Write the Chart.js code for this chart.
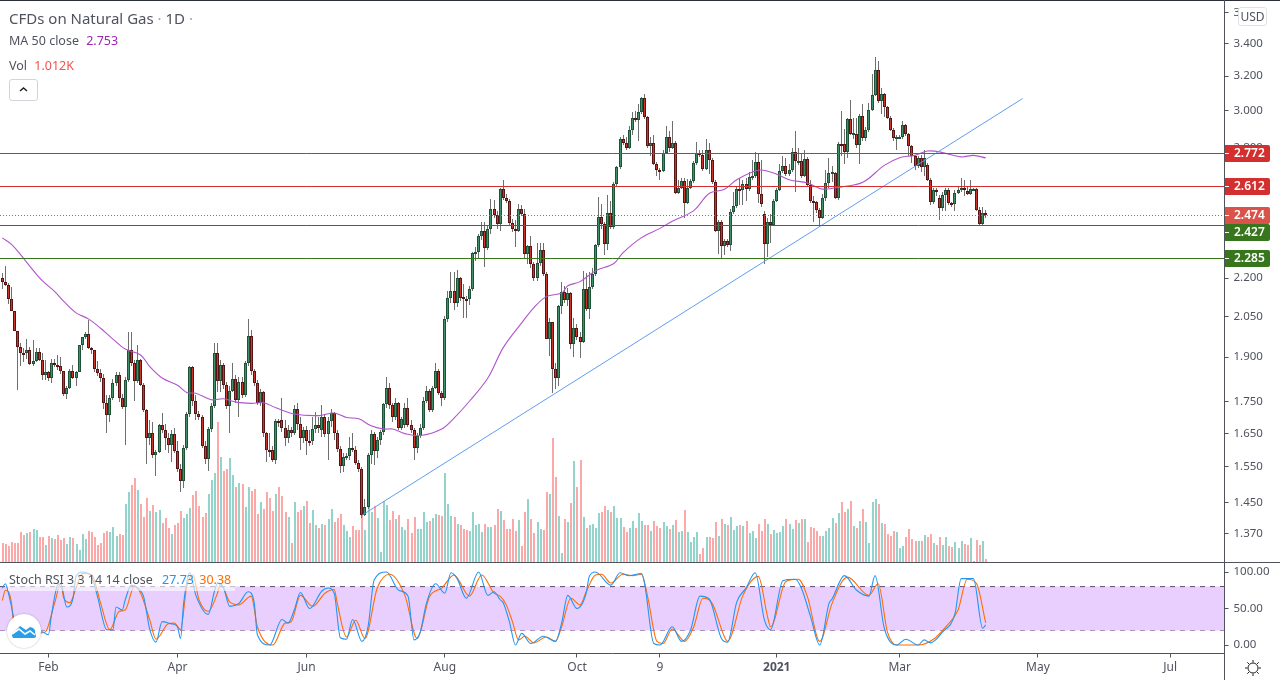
<!DOCTYPE html>
<html>
<head>
<meta charset="utf-8">
<title>CFDs on Natural Gas</title>
<script src="https://cdn.jsdelivr.net/npm/chart.js@4"></script>
<style>
  html, body { margin: 0; padding: 0; background: #fff; }
  #wrap { position: relative; width: 1280px; height: 680px; overflow: hidden; font-family: 'Noto Sans', sans-serif; color: #50535e; }
  canvas { position: absolute; left: 0; display: block; }
  #priceChart { top: 0; }
  #rsiChart { top: 562px; }
  .abs { position: absolute; white-space: nowrap; }
  .rule { position: absolute; background: #50535e; }
</style>
</head>
<body>
<div id="wrap">
  <canvas id="priceChart" width="1280" height="562"></canvas>
  <canvas id="rsiChart" width="1280" height="118"></canvas>

  <div class="rule" style="left:0;top:0;width:1280px;height:1px;background:#2a2e39"></div>
  <div class="rule" style="left:0;top:562px;width:1280px;height:1px"></div>
  <div class="rule" style="left:1224px;top:0;width:1px;height:680px"></div>

  <div class="abs" style="left:9px;top:8px;font-size:15px">CFDs on Natural Gas <span style="color:#a0a3ab">·</span> 1D <span style="color:#a0a3ab">·</span></div>
  <div class="abs" style="left:9px;top:32px;font-size:12.5px">MA 50 close <span style="color:#9c27b0;margin-left:4px">2.753</span></div>
  <div class="abs" style="left:9px;top:57px;font-size:12.5px">Vol <span style="color:#ef5350;margin-left:4px">1.012K</span></div>
  <div class="abs" style="left:9px;top:79px;width:27px;height:20px;border:1px solid #d1d4dc;border-radius:3px;background:#fff">
    <svg width="27" height="20"><polyline points="10,11 13.5,8 17,11" fill="none" stroke="#222" stroke-width="1.5"/></svg>
  </div>

  <div class="abs" style="left:1238px;top:7px;width:27px;height:17px;border:1px solid #dfe1e8;border-radius:3px;background:#fff;font-size:12px;line-height:17px;text-align:center">USD</div>

  <div class="abs" style="left:8px;top:570px;width:227px;height:21px;background:rgba(255,255,255,.6)"></div>
  <div class="abs" style="left:9px;top:571px;font-size:12.5px">Stoch RSI 3 3 14 14 close <span style="color:#2196f3;margin-left:6px">27.73</span> <span style="color:#ff6d00;margin-left:2px">30.38</span></div>

  <div class="abs" style="left:7px;top:614px;width:34px;height:34px;border-radius:50%;background:#fff;box-shadow:0 0 2px rgba(0,0,0,.3)">
    <svg width="34" height="34" viewBox="0 0 34 34">
      <path d="M6 24 Q3 19 8 17 L13 12 L19 16 L23 13 Q29 14 28 19 Q31 24 26 24 Z" fill="#2a9fe8"/>
      <polyline points="5,20 12,15 18,20 23,17 28,21" fill="none" stroke="#fff" stroke-width="1.6"/>
    </svg>
  </div>

  <svg class="abs" style="left:1244px;top:659px" width="18" height="18" viewBox="0 0 18 18">
    <circle cx="9" cy="9" r="5" fill="none" stroke="#222" stroke-width="1"/>
    <path d="M9 1V3.5M9 14.5V17M1 9H3.5M14.5 9H17M3.3 3.3L5 5M13 13L14.7 14.7M3.3 14.7L5 13M13 5L14.7 3.3" stroke="#222" stroke-width="1"/>
  </svg>
</div>

<script>
// Candles, one entry per trading day
const opens = [
  2.199,2.185,2.174,2.117,2.071,1.993,1.935,1.916,1.914,1.924,
  1.876,1.887,1.918,1.891,1.840,1.849,1.829,1.879,1.872,1.868,
  1.852,1.776,1.796,1.852,1.829,1.849,1.945,1.971,1.982,1.932,
  1.924,1.859,1.845,1.829,1.745,1.707,1.763,1.811,1.840,1.760,
  1.732,1.822,1.926,1.879,1.819,1.891,1.804,1.722,1.637,1.652,
  1.584,1.593,1.675,1.660,1.635,1.615,1.649,1.596,1.543,1.510,
  1.607,1.711,1.865,1.752,1.711,1.702,1.612,1.574,1.663,1.737,
  1.914,1.819,1.872,1.804,1.735,1.786,1.825,1.756,1.816,1.770,
  1.879,1.978,1.852,1.811,1.746,1.780,1.651,1.601,1.601,1.571,
  1.688,1.691,1.667,1.635,1.660,1.652,1.727,1.680,1.635,1.660,
  1.627,1.625,1.663,1.677,
  1.661,1.699,1.649,1.687,1.713,1.651,1.604,1.552,1.580,1.583,
  1.607,1.601,1.561,1.545,1.418,1.440,1.586,1.649,1.598,1.631,
  1.653,1.741,1.793,1.738,1.699,1.744,1.667,1.677,1.730,1.677,
  1.661,1.607,1.641,1.667,1.753,1.783,1.724,1.796,1.851,1.779,
  1.760,2.040,2.120,2.147,2.100,2.200,2.125,2.117,2.115,2.155,
  2.304,2.308,2.381,2.403,2.327,2.412,2.502,2.475,2.431,2.596,
  2.554,2.540,2.435,2.408,2.403,2.502,2.480,2.300,2.335,2.258,
  2.200,2.262,2.318,2.217,1.967,2.027,1.860,1.829,2.090,2.143,
  2.114,2.139,1.948,2.006,1.972,1.954,2.155,2.078,2.163,2.217,
  2.338,2.463,2.431,2.345,2.481,2.421,2.620,2.703,2.848,2.825,
  2.801,2.896,2.961,2.950,2.993,3.073,2.964,2.811,2.827,2.720,
  2.691,2.686,2.776,2.858,2.801,2.829,2.578,2.601,2.635,2.531,
  2.601,2.635,2.725,2.776,2.766,2.695,2.790,2.740,2.630,2.403,
  2.443,2.337,2.355,2.341,2.488,2.515,2.595,2.590,2.621,2.595,
  2.656,2.660,2.730,2.574,2.479,2.344,2.443,2.430,2.540,2.591,
  2.686,2.710,2.671,2.691,2.781,2.733,2.735,2.660,2.745,2.616,
  2.540,2.532,2.496,2.461,2.554,2.624,2.676,2.676,2.554,2.822,
  2.822,2.781,2.955,2.877,2.877,2.817,2.973,2.853,2.896,3.008,
  3.093,3.234,3.055,3.097,
  3.022,2.961,2.896,2.853,2.858,2.860,2.923,2.873,2.811,2.761,
  2.710,2.751,2.705,2.714,2.641,2.532,2.591,2.554,2.505,2.569,
  2.591,2.528,2.523,2.578,2.591,2.601,2.586,2.574,2.595,2.595,
  2.496,2.434,2.484
];
const closes = [
  2.185,2.174,2.117,2.071,1.993,1.935,1.914,1.914,1.924,1.876,
  1.887,1.918,1.891,1.840,1.849,1.829,1.879,1.872,1.868,1.852,
  1.776,1.796,1.852,1.829,1.849,1.945,1.971,1.982,1.932,1.924,
  1.859,1.845,1.829,1.745,1.707,1.763,1.811,1.840,1.760,1.732,
  1.822,1.926,1.879,1.819,1.891,1.804,1.722,1.637,1.652,1.584,
  1.593,1.675,1.660,1.635,1.615,1.649,1.596,1.543,1.510,1.607,
  1.711,1.865,1.752,1.711,1.702,1.612,1.574,1.663,1.737,1.914,
  1.819,1.872,1.804,1.735,1.786,1.825,1.756,1.816,1.770,1.879,
  1.978,1.852,1.811,1.746,1.780,1.651,1.601,1.600,1.571,1.688,
  1.685,1.667,1.635,1.660,1.652,1.727,1.680,1.635,1.660,1.627,
  1.625,1.663,1.677,1.667,
  1.699,1.649,1.687,1.713,1.651,1.604,1.552,1.580,1.583,1.607,
  1.601,1.561,1.545,1.418,1.440,1.586,1.649,1.598,1.631,1.653,
  1.741,1.793,1.738,1.699,1.744,1.667,1.693,1.730,1.677,1.661,
  1.607,1.641,1.667,1.753,1.783,1.724,1.796,1.851,1.779,1.760,
  2.040,2.120,2.147,2.100,2.200,2.120,2.117,2.115,2.155,2.304,
  2.308,2.381,2.403,2.327,2.412,2.502,2.475,2.431,2.596,2.554,
  2.540,2.435,2.408,2.403,2.502,2.480,2.300,2.335,2.258,2.200,
  2.262,2.318,2.217,1.967,2.027,1.860,1.829,2.090,2.143,2.114,
  2.139,1.948,2.006,1.972,1.954,2.155,2.078,2.163,2.217,2.338,
  2.463,2.431,2.345,2.481,2.421,2.620,2.703,2.848,2.825,2.801,
  2.896,2.961,2.950,2.993,3.073,2.964,2.811,2.827,2.720,2.691,
  2.686,2.776,2.858,2.801,2.829,2.578,2.601,2.635,2.531,2.601,
  2.635,2.725,2.776,2.766,2.695,2.790,2.740,2.630,2.403,2.443,
  2.337,2.355,2.341,2.488,2.515,2.595,2.590,2.621,2.595,2.656,
  2.660,2.730,2.574,2.523,2.344,2.443,2.430,2.540,2.591,2.686,
  2.710,2.671,2.691,2.781,2.733,2.736,2.660,2.745,2.616,2.540,
  2.532,2.496,2.461,2.554,2.624,2.676,2.678,2.554,2.822,2.819,
  2.781,2.955,2.877,2.879,2.817,2.973,2.853,2.896,3.008,3.093,
  3.234,3.055,3.097,3.022,
  2.961,2.896,2.853,2.858,2.860,2.923,2.873,2.811,2.761,2.710,
  2.751,2.705,2.751,2.641,2.532,2.591,2.590,2.505,2.569,2.591,
  2.528,2.523,2.578,2.591,2.601,2.598,2.574,2.595,2.596,2.496,
  2.434,2.484,2.474
];
const highs = [
  2.222,2.249,2.181,2.164,2.071,1.993,1.951,1.934,1.964,1.937,
  1.962,1.934,1.932,1.916,1.891,1.851,1.893,1.893,1.907,1.902,
  1.853,1.800,1.858,1.872,1.853,1.945,1.973,1.992,2.037,1.935,
  1.926,1.888,1.860,1.842,1.770,1.770,1.825,1.850,1.850,1.775,
  1.830,1.990,1.990,1.890,1.945,1.895,1.810,1.725,1.690,1.685,
  1.600,1.680,1.712,1.680,1.650,1.660,1.665,1.625,1.560,1.615,
  1.715,1.870,1.868,1.770,1.720,1.708,1.625,1.670,1.745,1.951,
  1.951,1.890,1.880,1.815,1.800,1.880,1.840,1.830,1.830,1.885,
  2.039,2.000,1.860,1.820,1.790,1.785,1.655,1.650,1.610,1.695,
  1.695,1.760,1.690,1.675,1.670,1.739,1.745,1.700,1.670,1.672,
  1.660,1.700,1.715,1.700,
  1.740,1.710,1.700,1.725,1.715,1.660,1.610,1.590,1.590,1.640,
  1.651,1.610,1.570,1.550,1.460,1.590,1.660,1.655,1.640,1.660,
  1.745,1.833,1.810,1.745,1.760,1.750,1.700,1.745,1.760,1.690,
  1.665,1.650,1.680,1.765,1.800,1.790,1.800,1.880,1.860,1.785,
  2.050,2.147,2.225,2.225,2.235,2.205,2.175,2.130,2.170,2.310,
  2.330,2.390,2.440,2.440,2.430,2.550,2.545,2.490,2.600,2.641,
  2.570,2.550,2.455,2.450,2.525,2.520,2.500,2.340,2.380,2.265,
  2.350,2.350,2.350,2.225,2.045,2.030,1.880,2.095,2.185,2.170,
  2.160,2.145,2.043,2.020,1.990,2.230,2.220,2.225,2.240,2.345,
  2.557,2.525,2.440,2.565,2.540,2.630,2.710,2.860,2.870,2.860,
  2.920,2.995,3.000,3.040,3.080,3.095,2.970,2.860,2.870,2.730,
  2.700,2.790,2.920,2.890,2.945,2.835,2.640,2.650,2.650,2.645,
  2.645,2.735,2.830,2.790,2.790,2.850,2.825,2.750,2.640,2.450,
  2.450,2.365,2.365,2.500,2.580,2.610,2.650,2.640,2.650,2.680,
  2.740,2.780,2.770,2.740,2.490,2.460,2.480,2.550,2.600,2.720,
  2.760,2.750,2.720,2.800,2.893,2.800,2.770,2.790,2.755,2.640,
  2.560,2.540,2.505,2.570,2.690,2.750,2.710,2.680,2.830,3.000,
  2.900,2.960,3.060,2.960,2.960,2.985,3.040,2.910,3.046,3.214,
  3.315,3.294,3.133,3.100,
  3.030,2.970,2.905,2.870,2.870,2.945,2.930,2.880,2.815,2.765,
  2.760,2.765,2.790,2.725,2.650,2.600,2.600,2.565,2.580,2.600,
  2.600,2.535,2.590,2.610,2.650,2.640,2.610,2.640,2.600,2.600,
  2.510,2.510,2.495
];
const lows = [
  2.158,2.167,2.097,2.069,1.993,1.788,1.871,1.882,1.893,1.873,
  1.871,1.882,1.885,1.820,1.822,1.818,1.812,1.865,1.856,1.841,
  1.768,1.759,1.791,1.824,1.800,1.848,1.925,1.964,1.928,1.913,
  1.850,1.835,1.815,1.725,1.650,1.685,1.755,1.800,1.750,1.725,
  1.614,1.815,1.870,1.752,1.810,1.800,1.715,1.560,1.615,1.575,
  1.525,1.590,1.650,1.600,1.590,1.565,1.590,1.535,1.480,1.490,
  1.600,1.700,1.735,1.690,1.690,1.605,1.560,1.538,1.655,1.730,
  1.780,1.782,1.790,1.725,1.650,1.780,1.745,1.700,1.760,1.765,
  1.870,1.840,1.800,1.740,1.735,1.640,1.565,1.580,1.565,1.560,
  1.670,1.655,1.610,1.620,1.640,1.645,1.660,1.600,1.620,1.585,
  1.610,1.615,1.650,1.650,
  1.640,1.640,1.571,1.670,1.630,1.595,1.532,1.535,1.570,1.570,
  1.595,1.555,1.535,1.410,1.415,1.435,1.560,1.556,1.575,1.615,
  1.645,1.730,1.725,1.685,1.690,1.660,1.660,1.665,1.670,1.650,
  1.571,1.590,1.635,1.660,1.745,1.715,1.715,1.790,1.770,1.735,
  1.755,2.030,2.100,2.075,2.085,2.110,2.044,2.044,2.095,2.150,
  2.270,2.280,2.360,2.245,2.320,2.390,2.460,2.410,2.400,2.545,
  2.530,2.430,2.395,2.330,2.395,2.470,2.280,2.260,2.240,2.190,
  2.190,2.250,2.210,1.965,1.904,1.777,1.790,1.800,2.060,2.100,
  2.090,1.930,1.900,1.960,1.897,1.950,2.070,2.040,2.155,2.210,
  2.330,2.410,2.295,2.320,2.410,2.410,2.610,2.695,2.815,2.790,
  2.795,2.870,2.940,2.840,2.985,2.955,2.800,2.760,2.715,2.660,
  2.640,2.680,2.770,2.780,2.795,2.570,2.570,2.595,2.460,2.525,
  2.595,2.625,2.715,2.755,2.685,2.690,2.670,2.620,2.395,2.302,
  2.285,2.295,2.330,2.315,2.480,2.505,2.520,2.520,2.540,2.585,
  2.640,2.650,2.530,2.510,2.260,2.290,2.350,2.425,2.535,2.585,
  2.675,2.660,2.660,2.680,2.580,2.715,2.650,2.655,2.610,2.530,
  2.440,2.485,2.420,2.455,2.540,2.600,2.630,2.550,2.545,2.760,
  2.720,2.750,2.870,2.850,2.800,2.720,2.840,2.840,2.885,3.000,
  3.085,3.045,2.985,2.968,
  2.955,2.890,2.840,2.790,2.850,2.850,2.865,2.760,2.725,2.690,
  2.700,2.680,2.660,2.635,2.520,2.525,2.560,2.451,2.490,2.490,
  2.520,2.510,2.490,2.570,2.580,2.560,2.565,2.565,2.590,2.490,
  2.425,2.430,2.460
];
// Volume in thousands
const volumes = [
  6.3,6,5.3,6.7,6.3,6.3,10,9,9.7,10,
  11,10.7,8.3,8.3,5.7,8.7,8,7.7,9,7.3,
  8,6,8.3,8,6,4,9.3,7.7,10.3,10,
  8.3,5.7,6.3,9.7,10.3,10,11.7,8.7,9.3,9,
  19.3,23.3,25.7,28,24,19.3,15,21.3,17,19,
  16.7,17.3,13,14.7,11.3,9.3,12.3,13,17,14.7,
  16,18,22.3,23.7,18.7,15,16.3,22.7,27.3,29.7,
  46.7,35,30.3,31,34.7,29,25,26.3,26,18.3,
  25,23.7,24.3,16,20,17.7,23.3,21.3,17,22.7,
  25,22,16.7,15,6.3,20,16.7,17.3,18.7,20.3,
  13,17.3,12.3,11.3,12.7,12.3,14.3,17.7,13.3,14.7,
  16,12.3,10.3,8.3,12,10.7,10.7,16,10.7,18.7,
  16.7,18.7,14.7,3.3,20.3,19,14,17,14.3,15.7,
  11.7,10.7,14.3,9.7,15,11,11,16.7,13.3,13.7,
  14.7,16,15.7,15.3,29.7,19.3,15.3,15,12.7,12.3,
  11,10.7,10.3,16.7,12.3,12.7,10,12.7,11.7,11.7,
  12.3,17.7,17,
  14,11,11,14.3,10.3,14,5.3,16.7,21,14.3,
  9.7,13.3,11,10.7,23.3,22.7,41.3,28.3,15.3,3,
  14.3,13.3,19.7,33.7,25,34,15,11.3,12.3,12.7,
  11.3,16.3,16.7,18.7,17.3,16.7,18.7,14.7,14.7,11.7,
  10,11.3,13.7,11.3,16.3,13.7,12.3,12.3,10.3,13.7,
  12,11.3,13.3,12,11,12.3,14,10,10.3,17.3,
  10,6.7,8.3,10,2.7,4.7,8.3,8.3,8,13.3,
  8.7,14.3,12.7,12.3,15,10.7,12,12.3,12,13.7,
  9.7,10.3,8,12.7,10.3,14.3,12.7,9.3,10.7,9.7,
  10,12,14.3,12.7,11,14,13,14.3,14.3,6.7,
  11.7,11.3,10.3,8.7,8.7,10.3,11.3,14.7,13,16.3,
  20,16.7,17.7,20.3,12,11.3,13.7,17.7,13.3,6.3,
  20,21,19.3,13,12.7,9.3,8.7,10.3,10,4.7,
  5.3,8.3,11,7.7,7,7,7,9,8.3,9.3,
  6.3,5.7,8.3,5.7,8.3,5.3,5,6.7,4.7,7,
  6,5.7,8,0.3,7.3,5.7,7,1
];

// MA 50 close, read at the bars listed in maDays
const maDays = [0,3,6,9,13,17,20,24,28,32,36,40,45,48,52,57,60,63,68,72,76,81,85,89,95,103,
  108,112,116,120,124,127,131,136,143,147,152,158,163,169,173,177,182,184,188,193,199,202,208,
  214,218,225,230,235,239,246,251,256,262,267,273,280,287,292,297,301,305,312,316,320];
const maValues = [2.371,2.342,2.297,2.249,2.190,2.147,2.107,2.063,2.040,2.005,1.965,1.929,1.908,1.867,1.828,1.804,1.780,1.777,1.756,1.759,1.748,1.744,1.746,1.730,1.710,1.705,
  1.713,1.699,1.695,1.673,1.663,1.663,1.649,1.643,1.663,1.697,1.751,1.828,1.934,2.025,2.083,2.126,2.140,2.169,2.186,2.230,2.261,2.307,2.372,
  2.413,2.445,2.494,2.574,2.595,2.641,2.688,2.674,2.641,2.625,2.595,2.606,2.628,2.712,2.751,2.763,2.785,2.781,2.755,2.763,2.750];

// Stoch RSI %K and %D
const kDays = [0,1,2,4,5,7,10,11,13,15,16,18,19,21,23,24,26,29,31,34,36,37,39,40,42,44,46,48,50,52,55,57,58,59,61,63,67,69,70,72,74,77,80,82,83,87,91,93,95,97,100,104,106,108,110,112,114,117,119,121,125,129,132,134,136,138,141,144,146,148,151,155,158,160,162,
  163,165,167,169,172,176,180,182,184,187,190,191,193,198,201,204,208,209,212,214,218,221,224,227,230,234,236,239,242,245,248,250,254,258,260,263,266,269,270,274,278,282,284,287,291,294,298,300,302,306,310,312,316,319,320];
const kValues = [78,84,71,30,0,0,7,15,18,14,41,82,84,52,64,94,100,94,66,21,21,52,48,62,82,78,66,21,4,32,29,25,9,57,99,68,42,73,85,78,53,57,73,57,14,0,35,30,48,72,50,74,78,71,10,8,35,5,25,89,100,75,67,7,18,57,84,71,99,91,64,100,68,73,62,
  58,32,0,16,2,12,5,30,68,50,71,94,100,82,99,95,98,84,2,0,25,5,21,67,63,9,4,59,78,99,34,21,88,90,78,39,0,57,63,95,75,67,95,23,0,8,0,7,3,18,43,91,91,23,27.73];
const dDays = [0,1,3,4,6,8,12,14,17,19,20,22,24,26,29,32,35,38,40,43,45,48,50,54,56,58,60,62,64,67,70,71,74,77,81,83,88,92,94,97,101,105,108,109,112,115,118,122,126,131,135,139,143,147,152,156,160,
  162,164,166,168,170,173,177,180,182,185,188,190,193,195,198,202,205,208,210,213,215,218,222,225,228,231,235,236,241,246,249,250,255,259,262,266,270,275,282,285,288,291,298,303,307,311,314,317,320];
const dValues = [61,75,57,11,0,0,16,18,57,84,64,58,78,98,97,57,21,46,48,81,71,34,8,29,30,21,80,96,62,46,71,84,59,55,67,25,0,30,32,68,53,71,76,57,11,34,9,78,97,68,9,66,78,96,67,96,71,
  67,55,32,7,12,3,11,5,25,64,55,73,96,97,85,97,95,97,66,5,2,22,5,25,64,57,11,5,68,94,39,25,87,90,66,5,57,93,68,84,18,0,0,8,25,48,90,84,30.38];

// Price levels drawn across the chart
const supportResist = [2.772, 2.612, 2.427, 2.285];
const levelColors = ['#d32f2f', '#d32f2f', '#38761d', '#38761d'];
const lastPrice = 2.474;

// Uptrend line end points (bar, price)
const trendDays = [117, 332];
const trendPrices = [1.417, 3.07];

// Axis ticks
const priceTicks = [3.6, 3.4, 3.2, 3.0, 2.8, 2.6, 2.4, 2.2, 2.05, 1.9, 1.75, 1.65, 1.55, 1.45, 1.37];
const rsiTicks = [100, 50, 0];
const rsiBand = [80, 20];
const dateTickDays = [15, 57, 99, 144, 187, 214, 252, 292, 337, 380];
const dateTickLabels = ['Feb', 'Apr', 'Jun', 'Aug', 'Oct', '9', '2021', 'Mar', 'May', 'Jul'];

// The pane shows more bars than there is data, price axis on the right
const X_MIN = -0.75;
const X_MAX = 397.7;
const AXIS_WIDTH = 55.5;
const FONT = "'Noto Sans', sans-serif";

const days = opens.map((_, i) => i);
const isUp = days.map(i => closes[i] >= opens[i]);

// Fixed axis width, and no room reserved for the first and last tick label
function fitAxis(scale) {
  scale.width = AXIS_WIDTH;
  scale.paddingTop = 0;
  scale.paddingBottom = 0;
}

function flatLine(value) {
  return [{ x: X_MIN, y: value }, { x: X_MAX, y: value }];
}

// Pixel row of a price level
function levelRow(y) {
  return Math.floor(y + 0.4);
}

// TradingView snaps candles to whole pixels, do the same so they stay sharp
const snapPlugin = {
  id: 'snapBars',
  beforeDatasetsDraw(chart) {
    const xScale = chart.scales.x;
    chart.data.datasets.forEach((ds, d) => {
      const meta = chart.getDatasetMeta(d);
      if (meta.type !== 'bar') {
        if (ds.snapLevel) {
          meta.data.forEach(pt => { pt.y = levelRow(pt.y) + 0.5; });
        }
        return;
      }
      meta.data.forEach((el, i) => {
        const px = Math.floor(xScale.getPixelForValue(i));
        el.x = ds.barThickness === 2 ? px + 1 : px + 0.5;
        el.y = Math.round(el.y);
        el.base = Math.round(el.base);
        if (ds.snapBody && Math.abs(el.base - el.y) < 2) {
          el.base = el.y + 2;
        }
      });
    });
  }
};

// Coloured price tags on the right axis
const priceTagPlugin = {
  id: 'priceTags',
  afterDraw(chart) {
    const ctx = chart.ctx;
    const y = chart.scales.y;
    const tags = [
      { v: supportResist[0], c: levelColors[0], dy: 0 },
      { v: supportResist[1], c: levelColors[1], dy: 0 },
      { v: lastPrice, c: '#d9534a', dy: 0 },
      { v: supportResist[2], c: levelColors[2], dy: 7 },
      { v: supportResist[3], c: levelColors[3], dy: 0 }
    ];
    ctx.save();
    tags.forEach(t => {
      const cy = levelRow(y.getPixelForValue(t.v)) + t.dy;
      ctx.fillStyle = t.c;
      ctx.beginPath();
      ctx.roundRect(1225, cy - 8, 45, 17, [0, 2, 2, 0]);
      ctx.fill();
      ctx.fillStyle = '#fff';
      ctx.fillRect(1225, cy, 4, 1);
      ctx.font = '600 12px ' + FONT;
      ctx.textBaseline = 'middle';
      ctx.textAlign = 'left';
      ctx.fillText(t.v.toFixed(3), 1234, cy + 1);
    });
    ctx.restore();
  }
};

// Price pane: volume, candles, moving average, levels
new Chart(document.getElementById('priceChart').getContext('2d'), {
  type: 'bar',
  plugins: [snapPlugin, priceTagPlugin],
  data: {
    datasets: [
      {
        label: 'Vol',
        yAxisID: 'yVol',
        order: 6,
        grouped: false,
        barThickness: 2,
        borderWidth: 0,
        inflateAmount: 0,
        backgroundColor: days.map(i => isUp[i] ? '#92d3cc' : '#fba9a8'),
        data: days.map(i => ({ x: i, y: volumes[i] }))
      },
      {
        label: 'Wick',
        order: 5,
        grouped: false,
        barThickness: 1,
        borderWidth: 0,
        inflateAmount: 0,
        backgroundColor: '#6f6f6f',
        data: days.map(i => ({ x: i, y: [lows[i], highs[i]] }))
      },
      {
        label: 'Body',
        order: 4,
        snapBody: true,
        grouped: false,
        barThickness: 3,
        borderWidth: 1,
        borderSkipped: false,
        inflateAmount: 0,
        backgroundColor: days.map(i => isUp[i] ? '#3f8f68' : '#c8352a'),
        borderColor: days.map(i => isUp[i] ? '#1d5237' : '#5a1313'),
        data: days.map(i => ({ x: i, y: [opens[i], closes[i]] }))
      },
      {
        type: 'line',
        label: 'MA 50 close',
        order: 3,
        borderColor: '#b055cb',
        borderWidth: 1.1,
        pointRadius: 0,
        tension: 0.35,
        data: maDays.map((d, i) => ({ x: d, y: maValues[i] }))
      },
      {
        type: 'line',
        label: 'Trend',
        order: 2,
        borderColor: '#5f9df0',
        borderWidth: 1,
        pointRadius: 0,
        data: trendDays.map((d, i) => ({ x: d, y: trendPrices[i] }))
      },
      {
        type: 'line',
        label: 'Last',
        order: 2,
        snapLevel: true,
        borderColor: '#d9534a',
        borderWidth: 1,
        borderDash: [1, 2],
        pointRadius: 0,
        data: flatLine(lastPrice)
      },
      ...supportResist.map((v, i) => ({
        type: 'line',
        label: 'Level ' + v,
        order: 1,
        snapLevel: true,
        borderColor: levelColors[i],
        borderWidth: 1,
        pointRadius: 0,
        data: flatLine(v)
      }))
    ]
  },
  options: {
    responsive: false,
    animation: false,
    devicePixelRatio: 1,
    layout: { padding: 0 },
    plugins: { legend: { display: false }, tooltip: { enabled: false } },
    scales: {
      x: {
        type: 'linear',
        display: false,
        min: X_MIN,
        max: X_MAX,
        offset: false
      },
      y: {
        type: 'logarithmic',
        position: 'right',
        min: 1.2995,
        max: 3.6858,
        afterFit: fitAxis,
        afterBuildTicks(scale) {
          scale.ticks = priceTicks.map(value => ({ value }));
        },
        border: { display: false },
        grid: { drawOnChartArea: false, color: '#50535e', tickLength: 4 },
        ticks: {
          autoSkip: false,
          maxRotation: 0,
          padding: 5,
          color: '#50535e',
          font: { family: FONT, size: 11.5 },
          callback: v => Number(v).toFixed(3)
        }
      },
      yVol: {
        type: 'linear',
        display: false,
        min: 0,
        max: 187.33
      }
    }
  }
});

// Stoch RSI pane
new Chart(document.getElementById('rsiChart').getContext('2d'), {
  type: 'line',
  data: {
    datasets: [
      {
        label: 'Band top',
        order: 4,
        borderColor: '#5d4a6d',
        borderWidth: 1,
        borderDash: [5, 5],
        backgroundColor: '#e9cffe',
        fill: '+1',
        pointRadius: 0,
        data: flatLine(rsiBand[0])
      },
      {
        label: 'Band bottom',
        order: 4,
        borderColor: '#5d4a6d',
        borderWidth: 1,
        borderDash: [5, 5],
        pointRadius: 0,
        data: flatLine(rsiBand[1])
      },
      {
        label: '%D',
        order: 3,
        borderColor: '#ff6d00',
        borderWidth: 1.1,
        pointRadius: 0,
        cubicInterpolationMode: 'monotone',
        data: dDays.map((d, i) => ({ x: d, y: dValues[i] }))
      },
      {
        label: '%K',
        order: 2,
        borderColor: '#2196f3',
        borderWidth: 1.1,
        pointRadius: 0,
        cubicInterpolationMode: 'monotone',
        data: kDays.map((d, i) => ({ x: d, y: kValues[i] }))
      }
    ]
  },
  options: {
    responsive: false,
    animation: false,
    devicePixelRatio: 1,
    layout: { padding: 0 },
    plugins: { legend: { display: false }, tooltip: { enabled: false } },
    scales: {
      x: {
        type: 'linear',
        min: X_MIN,
        max: X_MAX,
        afterFit(scale) { scale.height = 26.5; },
        afterBuildTicks(scale) {
          scale.ticks = dateTickDays.map(value => ({ value }));
        },
        border: { color: '#50535e' },
        grid: { drawOnChartArea: false, color: '#50535e', tickLength: 4 },
        ticks: {
          autoSkip: false,
          maxRotation: 0,
          padding: 3,
          color: '#50535e',
          font: c => ({ family: FONT, size: 12, weight: dateTickLabels[c.index] === '2021' ? '700' : '400' }),
          callback: (v, i) => dateTickLabels[i]
        }
      },
      y: {
        type: 'linear',
        position: 'right',
        min: -11.6,
        max: 113.7,
        afterFit: fitAxis,
        afterBuildTicks(scale) {
          scale.ticks = rsiTicks.map(value => ({ value }));
        },
        border: { display: false },
        grid: { drawOnChartArea: false, color: '#50535e', tickLength: 4 },
        ticks: {
          autoSkip: false,
          padding: 5,
          color: '#50535e',
          font: { family: FONT, size: 11.5 },
          callback: v => Number(v).toFixed(2)
        }
      }
    }
  }
});
</script>
</body>
</html>
